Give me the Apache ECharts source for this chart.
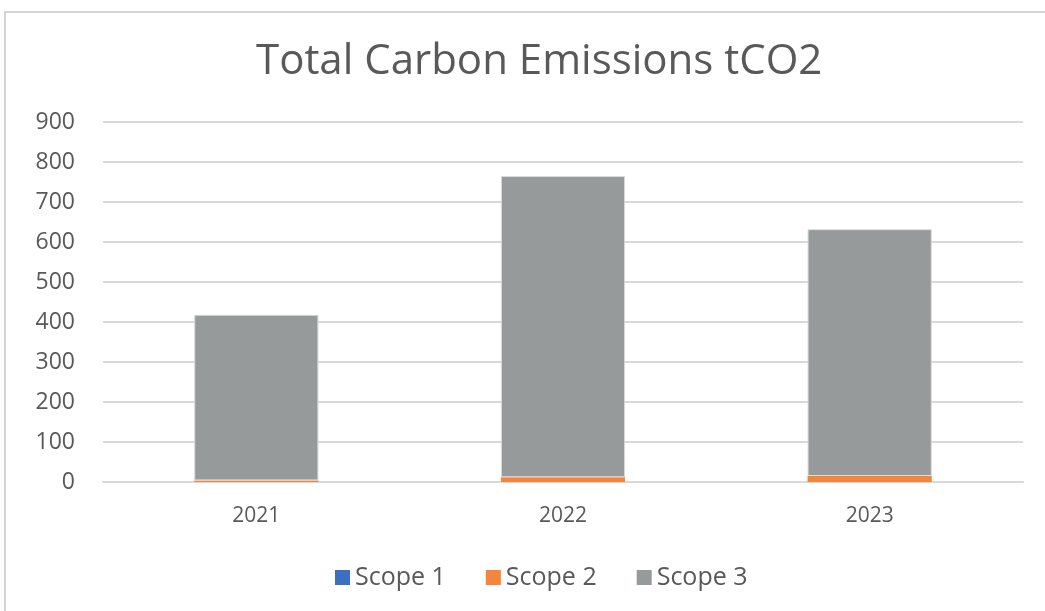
<!DOCTYPE html>
<html>
<head>
<meta charset="utf-8">
<script src="https://cdn.jsdelivr.net/npm/echarts@6/dist/echarts.min.js"></script>
<style>
  html, body { margin: 0; padding: 0; background: #fff; overflow: hidden; }
  #frame { position: absolute; left: 4px; top: 11px; width: 1100px; height: 700px;
           border-left: 2px solid #d4d4d4; border-top: 2px solid #d4d4d4; }
  #chart { position: absolute; left: 0; top: 0; width: 1045px; height: 611px; }
</style>
</head>
<body>
<div id="frame"></div>
<div id="chart"></div>
<script>
var years = ['2021', '2022', '2023']
var scope1 = [0, 0, 0]
var scope2 = [4, 12, 15]
var scope3 = [414, 753, 617]
var seriesNames = ['Scope 1', 'Scope 2', 'Scope 3']
var colors = ['#3b6fbf', '#f4853c', '#979a9a']

var chart = echarts.init(document.getElementById('chart'))
var datas = [scope1, scope2, scope3]
var series = []
for (var i = 0; i < seriesNames.length; i++) {
  series.push({
    name: seriesNames[i],
    type: 'bar',
    stack: 'total',
    barWidth: '40.5%',
    data: datas[i],
    itemStyle: {
      color: colors[i],
      borderColor: i === 2 ? '#dadada' : colors[i],
      borderWidth: i === 2 ? 1 : 0
    }
  })
}

chart.setOption({
  animation: false,
  textStyle: { fontFamily: '"Open Sans", "Noto Sans", sans-serif' },
  title: {
    text: 'Total Carbon Emissions tCO2',
    left: 251,
    top: 36,
    textStyle: { color: '#595959', fontSize: 42, fontWeight: 'normal' }
  },
  grid: { left: 103, right: 22, top: 122, bottom: 129 },
  legend: {
    data: seriesNames,
    bottom: 16,
    left: 330,
    icon: 'rect',
    itemWidth: 15,
    itemHeight: 15,
    itemGap: 40,
    itemStyle: { borderWidth: 0 },
    textStyle: { color: '#595959', fontSize: 25 }
  },
  xAxis: {
    type: 'category',
    data: years,
    axisTick: { show: false },
    axisLine: { lineStyle: { color: '#d9d9d9', width: 2 } },
    axisLabel: { color: '#595959', fontSize: 21, margin: 24 }
  },
  yAxis: {
    type: 'value',
    min: 0,
    max: 900,
    interval: 100,
    axisLine: { show: false },
    axisTick: { show: false },
    splitLine: { lineStyle: { color: '#d9d9d9', width: 2 } },
    axisLabel: { color: '#595959', fontSize: 23, margin: 28 }
  },
  series: series
})
</script>
</body>
</html>
